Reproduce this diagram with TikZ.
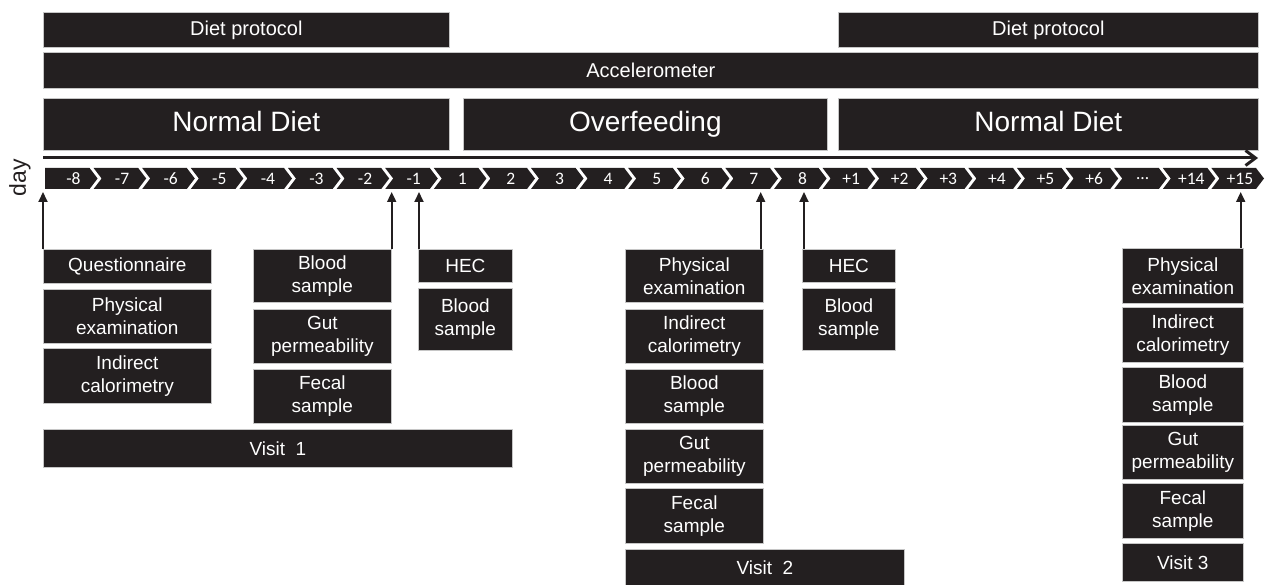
\documentclass[tikz,border=0pt]{standalone}
\usepackage{fontspec}
\setmainfont{Liberation Sans}
\newfontfamily\dayfont{Carlito}
\usetikzlibrary{arrows.meta}
\definecolor{boxblack}{HTML}{231F20}

\tikzset{
	blk/.style={anchor=north west, fill=boxblack, draw=gray!45, line width=0.7pt,
		text=white, align=center, inner sep=0pt, font=\fontsize{19}{23}\selectfont},
	topblk/.style={blk, font=\fontsize{20}{23}\selectfont},
	bigblk/.style={blk, font=\fontsize{28}{32}\selectfont, text height=20pt, text depth=6pt},
	daychev/.style={fill=boxblack},
	daytext/.style={text=white, font=\dayfont\fontsize{17.5}{20}\selectfont},
	upar/.style={draw=boxblack, line width=1.8pt, -{Triangle[length=10pt,width=9pt]}},
	timeline/.style={draw=boxblack, line width=3pt, -{Straight Barb[length=10pt,width=15pt]}}
}

\begin{document}
\begin{tikzpicture}[x=1pt,y=-1pt]
	\useasboundingbox (0,0) rectangle (1267,585);
	% periods
	\node[topblk, minimum width=406pt, minimum height=35pt] (diet1) at (43,12) {Diet protocol};
	\node[topblk, minimum width=420pt, minimum height=35pt] (diet2) at (838,12) {Diet protocol};
	\node[topblk, minimum width=1215pt, minimum height=36pt] (accel) at (43,52) {Accelerometer};
	\node[bigblk, minimum width=406pt, minimum height=52pt] (normal1) at (43,98) {Normal Diet};
	\node[bigblk, minimum width=364pt, minimum height=52pt] (over) at (463,98) {Overfeeding};
	\node[bigblk, minimum width=420pt, minimum height=52pt] (normal2) at (838,98) {Normal Diet};
	% time axis
	\coordinate (tl0) at (43,158);
	\coordinate (tl1) at (1258,158);
	\draw[timeline] (tl0) -- (tl1);
	\node[rotate=90, text=boxblack, font=\fontsize{23}{26}\selectfont] (daylbl) at (20,178) {day};
	\foreach \lab [count=\i from 0] in {-8,-7,-6,-5,-4,-3,-2,-1,1,2,3,4,5,6,7,8,+1,+2,+3,+4,+5,+6,\dots,+14,+15}{
		\pgfmathsetmacro{\L}{45+48.6*\i}
		\pgfmathsetmacro{\R}{\L+44.6}
		\ifnum\i=0
			\fill[daychev] (\L,168) -- (\R,168) -- (\R+8,178.5) -- (\R,189) -- (\L,189) -- cycle;
		\else
			\fill[daychev] (\L,168) -- (\R,168) -- (\R+8,178.5) -- (\R,189) -- (\L,189) -- (\L+8,178.5) -- cycle;
		\fi
		\node[daytext] (d\i) at (\L+28.5,178.5) {\lab};
	}
	\coordinate (axis) at (0,192);
	% visit 1
	\node[blk, minimum width=168pt, minimum height=34pt] (quest) at (43,249) {Questionnaire};
	\node[blk, minimum width=168pt, minimum height=54pt] (phys1) at (43,289) {Physical\\examination};
	\node[blk, minimum width=168pt, minimum height=55pt] (calo1) at (43,348) {Indirect\\calorimetry};
	\node[blk, minimum width=138pt, minimum height=53pt] (blood1) at (253,249) {Blood\\sample};
	\node[blk, minimum width=138pt, minimum height=54pt] (gut1) at (253,309) {Gut\\permeability};
	\node[blk, minimum width=138pt, minimum height=54pt] (fecal1) at (253,369) {Fecal\\sample};
	\node[blk, minimum width=94pt, minimum height=33pt] (hec1) at (418,249) {HEC};
	\node[blk, minimum width=94pt, minimum height=62pt] (blood2) at (418,288) {Blood\\sample};
	\node[blk, minimum width=469pt, minimum height=38pt] (visit1) at (43,429) {Visit\ \ 1};
	% visit 2
	\node[blk, minimum width=138pt, minimum height=53pt] (phys2) at (625,249) {Physical\\examination};
	\node[blk, minimum width=138pt, minimum height=54pt] (calo2) at (625,309) {Indirect\\calorimetry};
	\node[blk, minimum width=138pt, minimum height=54pt] (blood3) at (625,369) {Blood\\sample};
	\node[blk, minimum width=138pt, minimum height=54pt] (gut2) at (625,429) {Gut\\permeability};
	\node[blk, minimum width=138pt, minimum height=55pt] (fecal2) at (625,488) {Fecal\\sample};
	\node[blk, minimum width=93pt, minimum height=33pt] (hec2) at (802,249) {HEC};
	\node[blk, minimum width=93pt, minimum height=62pt] (blood4) at (802,288) {Blood\\sample};
	\node[blk, minimum width=279pt, minimum height=36pt] (visit2) at (625,549) {Visit\ \ 2};
	% visit 3
	\node[blk, minimum width=121pt, minimum height=55pt] (phys3) at (1122,248) {Physical\\examination};
	\node[blk, minimum width=121pt, minimum height=55pt] (calo3) at (1122,307) {Indirect\\calorimetry};
	\node[blk, minimum width=121pt, minimum height=55pt] (blood5) at (1122,367) {Blood\\sample};
	\node[blk, minimum width=121pt, minimum height=54pt] (gut3) at (1122,425) {Gut\\permeability};
	\node[blk, minimum width=121pt, minimum height=55pt] (fecal3) at (1122,483) {Fecal\\sample};
	\node[blk, minimum width=121pt, minimum height=38pt] (visit3) at (1122,543) {Visit 3};
	% arrows to the days
	\draw[upar] (quest.north west) -- (quest.north west |- axis);
	\draw[upar] (blood1.north east) -- (blood1.north east |- axis);
	\draw[upar] ([xshift=1pt]hec1.north west) -- ([xshift=1pt]hec1.north west |- axis);
	\draw[upar] ([xshift=-3pt]phys2.north east) -- ([xshift=-3pt]phys2.north east |- axis);
	\draw[upar] ([xshift=2pt]hec2.north west) -- ([xshift=2pt]hec2.north west |- axis);
	\draw[upar] ([xshift=-3pt]phys3.north east) -- ([xshift=-3pt]phys3.north east |- axis);
\end{tikzpicture}
\end{document}
